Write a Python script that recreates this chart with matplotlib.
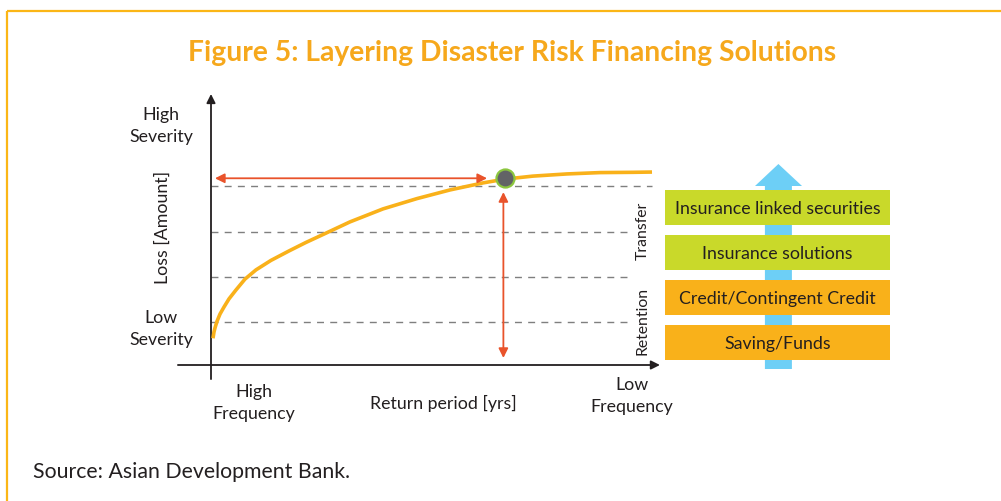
import matplotlib
matplotlib.use("Agg")
import matplotlib.pyplot as plt
from matplotlib.patches import Polygon

plt.rcParams['font.family'] = ['Lato', 'DejaVu Sans']

# ---------------- data ----------------
title = "Figure 5: Layering Disaster Risk Financing Solutions"
source = "Source: Asian Development Bank."

# loss-exceedance curve (return period -> loss) (0-100 scales)
curve_x = [0.45, 0.68, 0.91, 1.36, 2.04, 2.95, 4.08, 5.67, 7.71, 10.2, 13.6,
           17.7, 21.5, 25.6, 31.5, 39.0, 46.7, 54.2, 61.7, 66.7, 73.0, 80.7,
           88.2, 95.7, 100.0]
curve_y = [9.85, 12.2, 13.7, 16.1, 18.8, 21.4, 24.4, 27.7, 31.7, 35.1, 38.6,
           42.1, 45.2, 48.3, 52.8, 57.6, 61.4, 64.6, 67.2, 68.6, 69.7, 70.5,
           71.0, 71.1, 71.2]

layer_levels = [15.8, 32.5, 49.2, 65.9]      # dashed layer boundaries (loss)
layer_ends = [94.3, 94.3, 94.3, 100.0]

event_x = 66.7          # highlighted event: return period
event_y = 68.9          # highlighted event: loss

layers = ["Saving/Funds", "Credit/Contingent Credit",
          "Insurance solutions", "Insurance linked securities"]
layer_group = ["Retention", "Retention", "Transfer", "Transfer"]
group_names = ["Retention", "Transfer"]

# ---------------- styles ----------------
ORANGE = "#f9b11a"
GREEN = "#c9d92a"
FRAME = "#fbb616"
TITLE_C = "#f6a81c"
RED = "#e9532b"
TXT = "#231f20"
BLUE = "#6dcff6"

W, H = 1001, 502
fig = plt.figure(figsize=(W / 100, H / 100), dpi=100)

# background layer (frame, title, source)
bg = fig.add_axes([0, 0, 1, 1])
bg.set_xlim(0, W)
bg.set_ylim(H, 0)
bg.axis("off")
bg.plot([7, W], [12, 12], color=FRAME, lw=1.6, solid_capstyle="butt")
bg.plot([7, 7], [12, H], color=FRAME, lw=1.6, solid_capstyle="butt")
bg.text(512, 53, title, ha="center", va="center", fontsize=20.3,
        fontweight="bold", color=TITLE_C)
bg.text(33, 472, source, ha="left", va="center", fontsize=15.3, color=TXT)

# ---------------- main chart ----------------
def fr(px_left, px_top, px_w, px_h):
    return [px_left / W, (H - px_top - px_h) / H, px_w / W, px_h / H]

ax = fig.add_axes(fr(211, 95, 441, 271))
ax.set_xlim(0, 100)
ax.set_ylim(0, 100)
ax.axis("off")

# axes with arrowheads
ax.annotate("", xy=(0, 1.0), xytext=(0, -0.052), xycoords="axes fraction",
            arrowprops=dict(arrowstyle="-|>", color=TXT, lw=1.3,
                            mutation_scale=13, shrinkA=0, shrinkB=0))
ax.annotate("", xy=(1.018, 0), xytext=(-0.075, 0), xycoords="axes fraction",
            arrowprops=dict(arrowstyle="-|>", color=TXT, lw=1.3,
                            mutation_scale=13, shrinkA=0, shrinkB=0))

for lv, xe in zip(layer_levels, layer_ends):
    ax.plot([0, xe], [lv, lv], color="#7f7f7f", lw=1.0, dashes=(5, 4.5),
            clip_on=False)

ax.plot(curve_x, curve_y, color=ORANGE, lw=2.6, solid_capstyle="butt",
        solid_joinstyle="round", clip_on=False, zorder=3)

# red arrows
ax.annotate("", xy=(0.9, event_y), xytext=(62.6, event_y),
            arrowprops=dict(arrowstyle="<|-|>", color=RED, lw=1.3,
                            mutation_scale=14, shrinkA=0, shrinkB=0))
ax.annotate("", xy=(event_x - 0.4, 63.8), xytext=(event_x - 0.4, 2.6),
            arrowprops=dict(arrowstyle="<|-|>", color=RED, lw=1.3,
                            mutation_scale=14, shrinkA=0, shrinkB=0))
ax.plot([event_x], [event_y], "o", ms=13, mfc="#626366", mec="#8cc63f",
        mew=1.6, zorder=5)

lab = dict(fontsize=12.8, color=TXT, ha="center", va="center",
           transform=ax.transAxes, linespacing=1.45)
ax.text(-0.113, 0.886, "High\nSeverity", **lab)
ax.text(-0.113, 0.137, "Low\nSeverity", **lab)
ax.text(-0.109, 0.513, "Loss [Amount]", rotation=90, **lab)
ax.text(0.0975, -0.137, "High\nFrequency", **lab)
ax.text(0.526, -0.140, "Return period [yrs]", **lab)
ax.text(0.955, -0.111, "Low\nFrequency", **lab)

# ---------------- layering panel ----------------
ax2 = fig.add_axes(fr(665, 160, 225, 215))
ax2.set_xlim(0, 1)
ax2.set_ylim(-0.7, 4.078)
ax2.axis("off")

# blue upward arrow behind boxes
arrow_poly = [(0.444, -0.589), (0.564, -0.589), (0.564, 3.478), (0.609, 3.478),
              (0.504, 3.967), (0.40, 3.478), (0.444, 3.478)]
ax2.add_patch(Polygon(arrow_poly, closed=True, facecolor=BLUE,
                      edgecolor="none", zorder=1, clip_on=False))

pos = list(range(len(layers)))
colors = [GREEN if g == "Transfer" else ORANGE for g in layer_group]
ax2.barh(pos, [1] * len(layers), left=0, height=35 / 45, color=colors,
         zorder=2)
for p, name in zip(pos, layers):
    ax2.text(0.5, p, name, ha="center", va="center", fontsize=12.8,
             color=TXT, zorder=3)

for g in group_names:
    idx = [p for p, lg in zip(pos, layer_group) if lg == g]
    yc = sum(idx) / len(idx)
    ax2.text(-0.098, yc, g, rotation=90, ha="center", va="center",
             fontsize=11.3, color=TXT, clip_on=False)

fig.savefig("out.png", dpi=100)
